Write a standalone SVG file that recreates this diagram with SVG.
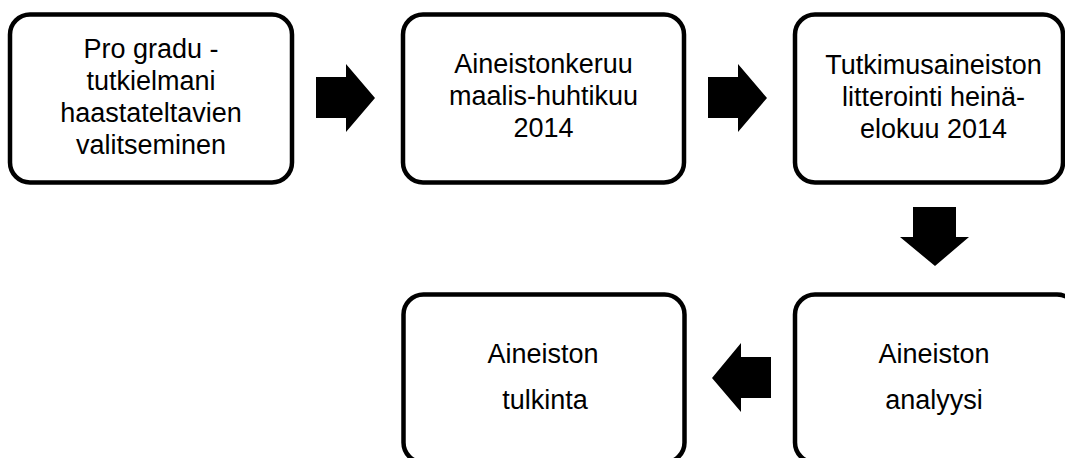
<svg xmlns="http://www.w3.org/2000/svg" width="1065" height="458" viewBox="0 0 1065 458">
<style>
.box{fill:#fff;stroke:#000;stroke-width:4.5}
.lbl{font-family:"Liberation Sans",Arial,sans-serif;font-size:27px;fill:#000;text-anchor:middle}
.arr{fill:#000;stroke:none}
</style>
<rect width="1065" height="458" fill="#fff"/>
<g id="connectors">
<polygon class="arr" points="316,77 346,77 346,64 375,98 346,132 346,118 316,118"/>
<polygon class="arr" points="708,77 738,77 738,64 767,98 738,132 738,118 708,118"/>
<polygon class="arr" points="913,207 956,207 956,237 969,237 935,266 900,237 913,237"/>
<polygon class="arr" points="771,357 741,357 741,343 712,378 741,412 741,398 771,398"/>
</g>
<g id="n1">
<rect class="box" x="10" y="14.5" width="282" height="168" rx="20"/>
<text class="lbl" x="151" y="58">Pro gradu -</text>
<text class="lbl" x="151" y="90">tutkielmani</text>
<text class="lbl" x="151" y="122">haastateltavien</text>
<text class="lbl" x="151" y="154">valitseminen</text>
</g>
<g id="n2">
<rect class="box" x="403" y="14.5" width="281" height="168" rx="20"/>
<text class="lbl" x="543.5" y="73">Aineistonkeruu</text>
<text class="lbl" x="543.5" y="105">maalis-huhtikuu</text>
<text class="lbl" x="543.5" y="137">2014</text>
</g>
<g id="n3">
<rect class="box" x="795" y="14.5" width="268" height="168" rx="20"/>
<text class="lbl" x="933.5" y="74">Tutkimusaineiston</text>
<text class="lbl" x="933.5" y="106">litterointi heinä-</text>
<text class="lbl" x="933.5" y="138">elokuu 2014</text>
</g>
<g id="n4">
<rect class="box" x="795" y="294.5" width="282" height="168" rx="20"/>
<text class="lbl" x="934" y="363">Aineiston</text>
<text class="lbl" x="934" y="409">analyysi</text>
</g>
<g id="n5">
<rect class="box" x="403.5" y="294.5" width="281" height="168" rx="20"/>
<text class="lbl" x="543" y="363">Aineiston</text>
<text class="lbl" x="545" y="409">tulkinta</text>
</g>
</svg>
